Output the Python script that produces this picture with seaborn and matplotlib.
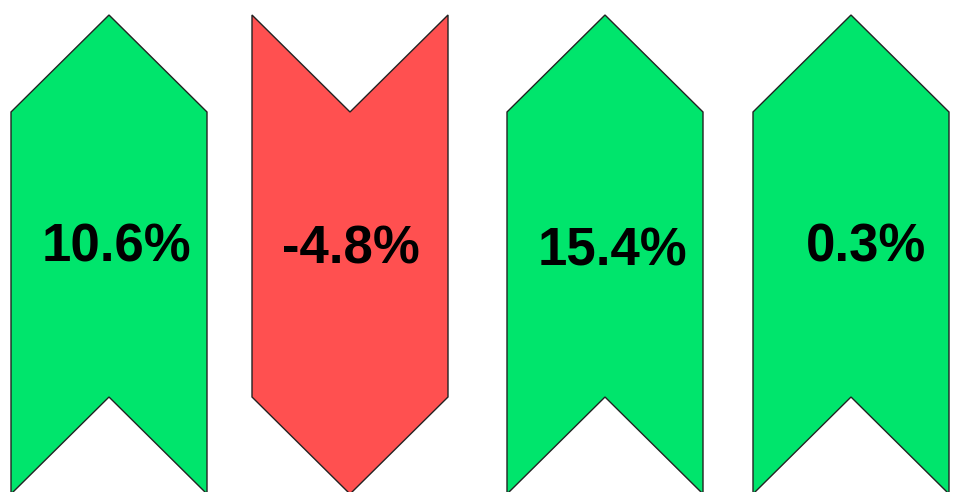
import matplotlib
matplotlib.use("Agg")
import matplotlib.pyplot as plt
from matplotlib.patches import Polygon
import seaborn as sns

sns.set_theme(style="white")
plt.rcParams["font.family"] = ["Liberation Sans", "DejaVu Sans"]

# data
changes = [10.6, -4.8, 15.4, 0.3]
labels = [f"{v:.1f}%" for v in changes]

# layout (pixel coordinates of the canvas)
arrow_left = [11, 252, 507, 753]
arrow_width = 196
label_x = [116, 351, 612, 866]
label_y = [248, 250, 251, 248]
top, shoulder, notch, bottom = 15, 112, 397, 494

UP_COLOR = "#00E56C"
DOWN_COLOR = "#FF5050"


def arrow_points(left, width, up):
    right = left + width
    mid = left + width / 2
    if up:
        return [(left, shoulder), (mid, top), (right, shoulder),
                (right, bottom), (mid, notch), (left, bottom)]
    return [(left, top), (mid, shoulder), (right, top),
            (right, notch), (mid, bottom), (left, notch)]


fig = plt.figure(figsize=(9.57, 4.92), dpi=100)
ax = fig.add_axes([0, 0, 1, 1])
ax.set_xlim(0, 957)
ax.set_ylim(492, 0)
ax.axis("off")

for val, left, lab, lx, ly in zip(changes, arrow_left, labels, label_x, label_y):
    up = val >= 0
    poly = Polygon(arrow_points(left, arrow_width, up), closed=True,
                   facecolor=UP_COLOR if up else DOWN_COLOR,
                   edgecolor="#222222", linewidth=1)
    ax.add_patch(poly)
    ax.text(lx, ly, lab, ha="center", va="center", fontsize=38,
            fontweight="bold", color="black")

fig.savefig("out.png", dpi=100)
